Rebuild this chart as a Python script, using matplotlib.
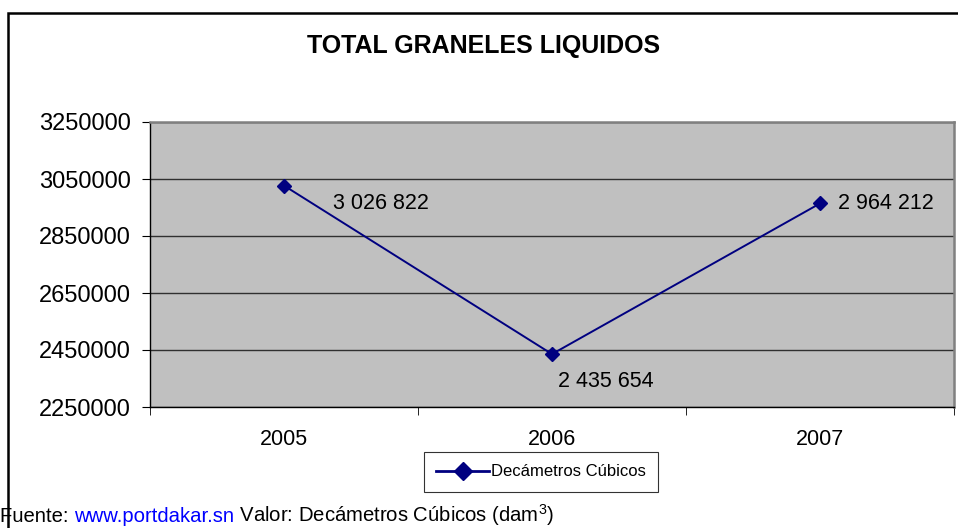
import matplotlib
matplotlib.use("Agg")
import matplotlib.pyplot as plt
from matplotlib.patches import Rectangle

plt.rcParams["font.family"] = ["Liberation Sans", "DejaVu Sans"]
plt.rcParams["mathtext.fontset"] = "custom"
plt.rcParams["mathtext.rm"] = "Liberation Sans"

years = ["2005", "2006", "2007"]
volumes = [3026822, 2435654, 2964212]
value_labels = ["3 026 822", "2 435 654", "2 964 212"]
y_ticks = [2250000, 2450000, 2650000, 2850000, 3050000, 3250000]
series_name = "Decámetros Cúbicos"

NAVY = "#000080"

fig = plt.figure(figsize=(9.58, 5.28), dpi=100)
fig.patch.set_facecolor("white")

# outer chart frame (runs off the right/bottom edge like the source)
fig.patches.append(Rectangle((8 / 958, -0.05), 1.0, (528 - 13) / 528 + 0.05,
                             transform=fig.transFigure, fill=False,
                             edgecolor="black", linewidth=1.8))

ax = fig.add_axes([150 / 958, 121 / 528, 804 / 958, 285 / 528])
ax.set_facecolor("#C0C0C0")

x = list(range(len(years)))
ax.plot(x, volumes, color=NAVY, linewidth=1.4, marker="D", markersize=7,
        markerfacecolor=NAVY, markeredgecolor=NAVY, label=series_name, zorder=3)

offsets = [(35, -13), (4, -20), (13, 0)]
for xi, v, lab, off in zip(x, volumes, value_labels, offsets):
    ax.annotate(lab, (xi, v), xytext=off, textcoords="offset points",
                ha="left", va="center", fontsize=15.5, color="black")

ax.set_xlim(-0.5, 2.5)
ax.set_ylim(y_ticks[0], y_ticks[-1])
ax.set_yticks(y_ticks)
ax.set_yticklabels([str(t) for t in y_ticks], fontsize=17)
ax.yaxis.grid(True, color="#303030", linewidth=1.0)
ax.set_axisbelow(True)

ax.set_xticks(x)
ax.set_xticklabels(years, fontsize=15.5)
ax.set_xticks([-0.5, 0.5, 1.5, 2.5], minor=True)
ax.tick_params(axis="x", which="major", length=0, pad=16)
ax.tick_params(axis="x", which="minor", length=6, color="black", direction="out")
ax.tick_params(axis="y", length=6, color="black", direction="out", pad=8)

for side in ["top", "right"]:
    ax.spines[side].set_color("#808080")
    ax.spines[side].set_linewidth(1.8)
for side in ["left", "bottom"]:
    ax.spines[side].set_color("black")
    ax.spines[side].set_linewidth(1.0)

fig.text(484 / 958, 1 - 46 / 528, "TOTAL GRANELES LIQUIDOS", ha="center",
         va="center", fontsize=18, fontweight="bold")

leg = fig.legend(loc="center", bbox_to_anchor=(541 / 958, 1 - 472 / 528),
                 fontsize=12, frameon=True, fancybox=False, handlelength=3.2,
                 borderpad=0.75, handletextpad=0.1, borderaxespad=0)
leg.get_frame().set_edgecolor("black")
leg.get_frame().set_linewidth(0.8)
for h in leg.legend_handles:
    h.set_linewidth(2.0)
    h.set_markersize(9)

base_y = 6 / 528
t1 = fig.text(0.0, base_y, "Fuente: ", fontsize=14.6, va="baseline", ha="left")
fig.canvas.draw()
r = fig.canvas.get_renderer()
bb = t1.get_window_extent(r)
t2 = fig.text(bb.x1 / fig.bbox.width, base_y, "www.portdakar.sn", fontsize=14.6,
              color="#0000FF", va="baseline", ha="left")
bb2 = t2.get_window_extent(r)
fig.text(bb2.x1 / fig.bbox.width, base_y,
         " Valor: Decámetros Cúbicos (dam$^3$)", fontsize=14.6,
         va="baseline", ha="left")

fig.savefig("out.png", dpi=100)
